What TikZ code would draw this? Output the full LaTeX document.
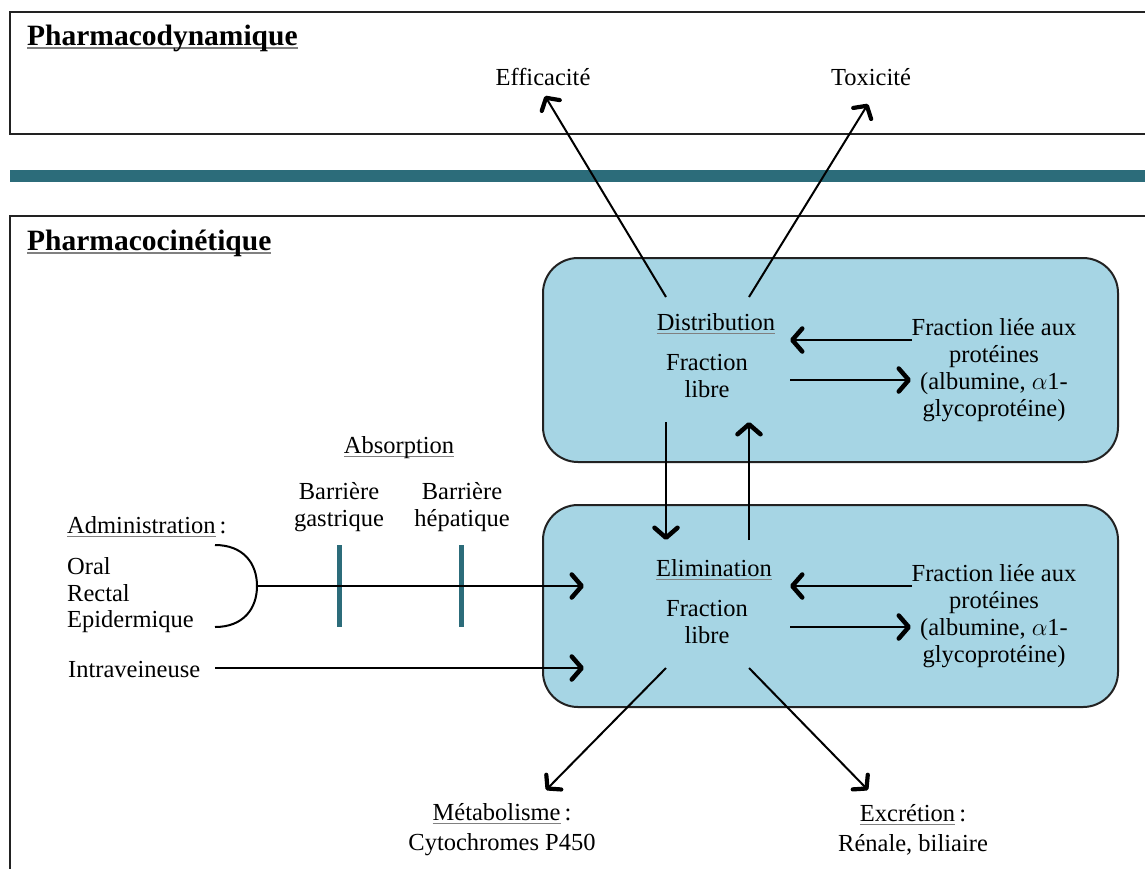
\documentclass[tikz,border=0pt]{standalone}
\usepackage{fontspec}
\setmainfont{Liberation Serif}
\usetikzlibrary{arrows.meta}
\definecolor{teal1}{RGB}{44,108,122}
\definecolor{lblue}{RGB}{166,213,228}
\definecolor{frame}{RGB}{34,34,34}
\newcommand\ulx[1]{\setbox0\hbox{#1}\rlap{\color{gray}\rule[-3.5pt]{\wd0}{1.2pt}}\box0}
\tikzset{
  txt/.style={inner sep=0pt, align=center, font=\fontsize{24.5}{26.8}\selectfont},
  ltxt/.style={inner sep=0pt, align=left, font=\fontsize{24.5}{26.8}\selectfont},
  ttl/.style={inner sep=0pt, anchor=west, font=\fontsize{29.5}{31}\selectfont\bfseries},
  arr/.style={line width=2.3pt, -{Straight Barb[length=10pt,width=23pt,line width=4.5pt,round]}},
  darr/.style={line width=2pt, -{Straight Barb[length=9pt,width=21pt,line width=4.2pt,round]}},
  frm/.style={draw=frame, line width=2pt},
  pkbox/.style={draw=frame, line width=2pt, fill=lblue, rounded corners=35pt},
  barrier/.style={draw=teal1, line width=5pt},
}
\begin{document}
\begin{tikzpicture}[x=1pt,y=-1pt]
\useasboundingbox (0,0) rectangle (1145,868);
\clip (0,0) rectangle (1145,868);
\fill[white] (0,0) rectangle (1145,868);
% frames
\draw[frm] (1160,12) -- (10,12) -- (10,134) -- (1160,134);
\fill[teal1] (10,170) rectangle (1160,182);
\draw[frm] (1160,216) -- (10,216) -- (10,880);
\node[ttl] (pd) at (27,38) {\ulx{Pharmacodynamique}};
\node[ttl] (pk) at (27,243) {\ulx{Pharmacocinétique}};
% PK boxes
\draw[pkbox] (543,258) rectangle (1118,462);
\draw[pkbox] (543,505) rectangle (1118,707);
% PD targets
\node[txt] (eff) at (543,77) {Efficacité};
\node[txt] (tox) at (871,77) {Toxicité};
% Distribution
\node[txt] (dist) at (716,324) {\ulx{Distribution}};
\node[txt] (dfl) at (707,376) {Fraction\\libre};
\node[txt] (dlie) at (994,370) {Fraction liée aux\\protéines\\(albumine, $\alpha$1-\\glycoprotéine)};
% Elimination
\node[txt] (elim) at (714,570) {\ulx{Elimination}};
\node[txt] (efl) at (707,622) {Fraction\\libre};
\node[txt] (elie) at (994,616) {Fraction liée aux\\protéines\\(albumine, $\alpha$1-\\glycoprotéine)};
% Outputs
\node[txt, font=\fontsize{24.5}{30}\selectfont] (meta) at (502,830) {\ulx{Métabolisme}\,:\\Cytochromes P450};
\node[txt, font=\fontsize{24.5}{30}\selectfont] (excr) at (913,830) {\ulx{Excrétion}\,:\\Rénale, biliaire};
% Absorption
\node[txt] (abs) at (399,448) {\ulx{Absorption}};
\node[txt] (bg) at (339,507) {Barrière\\gastrique};
\node[txt] (bh) at (462,507) {Barrière\\hépatique};
% Administration
\node[ltxt, anchor=west] (adm) at (67,527) {\ulx{Administration}\,:};
\node[ltxt, anchor=north west] (routes) at (67,557) {Oral\\Rectal\\Epidermique};
\node[ltxt, anchor=west] (iv) at (68,669) {Intraveineuse};
% coordinates
\coordinate (d1) at (666,297);
\coordinate (d2) at (749,297);
\coordinate (effh) at (545,96);
\coordinate (toxh) at (868,104);
\coordinate (dla) at (912,340);
\coordinate (dlb) at (790,340);
\coordinate (dra) at (790,380);
\coordinate (drb) at (911,380);
\coordinate (db) at (666,422);
\coordinate (ub) at (749,422);
\coordinate (et) at (666,540);
\coordinate (ut) at (749,540);
\coordinate (ela) at (912,586);
\coordinate (elb) at (790,586);
\coordinate (era) at (790,627);
\coordinate (erb) at (911,627);
\coordinate (e1) at (666,668);
\coordinate (e2) at (749,668);
\coordinate (mh) at (546,790);
\coordinate (xh) at (868,790);
\coordinate (brt) at (215,545);
\coordinate (brk) at (257,586);
\coordinate (brb) at (215,627);
\coordinate (inA) at (584,586);
\coordinate (ivs) at (215,668);
\coordinate (ivA) at (584,668);
\coordinate (g1) at (339,545);
\coordinate (g2) at (339,627);
\coordinate (h1) at (461,545);
\coordinate (h2) at (461,627);
% bracket and absorption path
\draw[line width=2pt] (brt) .. controls (243,545) and (257,563) .. (brk) .. controls (257,609) and (243,627) .. (brb);
\draw[barrier] (g1) -- (g2);
\draw[barrier] (h1) -- (h2);
\draw[arr] (brk) -- (inA);
\draw[arr] (ivs) -- (ivA);
% distribution arrows
\draw[darr] (d1) -- (effh);
\draw[darr] (d2) -- (toxh);
\draw[arr] (dla) -- (dlb);
\draw[arr] (dra) -- (drb);
\draw[arr] (db) -- (et);
\draw[arr] (ut) -- (ub);
% elimination arrows
\draw[arr] (ela) -- (elb);
\draw[arr] (era) -- (erb);
\draw[darr] (e1) -- (mh);
\draw[darr] (e2) -- (xh);
\end{tikzpicture}
\end{document}
